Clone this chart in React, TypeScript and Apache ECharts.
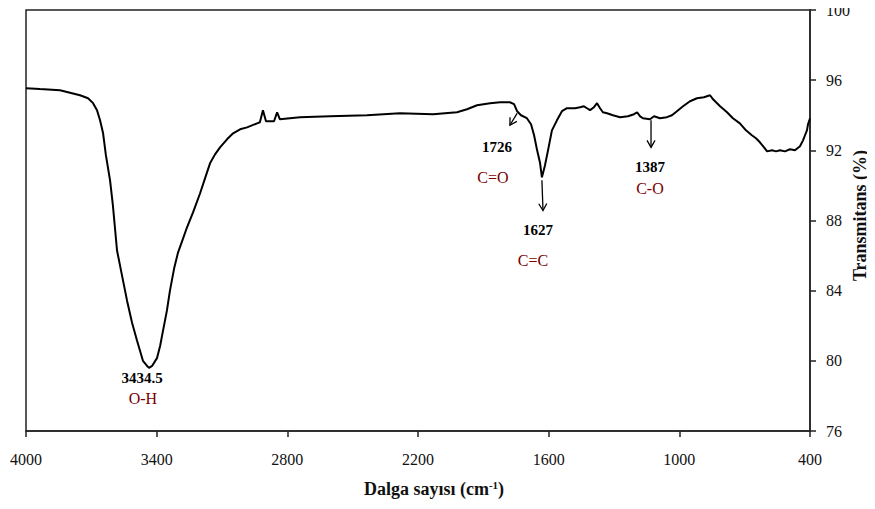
import React, { useEffect, useRef } from "react";
import * as echarts from "echarts";

// Wavenumber (cm-1) and transmittance (%)
const wavenumbers = [
  4000, 3936, 3844, 3752, 3715, 3692, 3674, 3660, 3646, 3633, 3614, 3601, 3582, 3559, 3536, 3513,
  3490, 3463, 3444, 3435, 3421, 3398, 3384, 3371, 3353, 3339, 3320, 3302, 3279, 3261, 3233, 3201,
  3178, 3155, 3132, 3109, 3077, 3049, 3017, 2985, 2939, 2926, 2912, 2898, 2880, 2861, 2847, 2834,
  2788, 2742, 2604, 2434, 2283, 2131, 2021, 1975, 1929, 1869, 1823, 1778, 1759, 1745, 1727, 1700,
  1681, 1667, 1653, 1640, 1631, 1617, 1603, 1585, 1562, 1539, 1516, 1479, 1456, 1438, 1424, 1410,
  1392, 1378, 1364, 1351, 1332, 1305, 1272, 1236, 1208, 1194, 1180, 1167, 1135, 1116, 1089, 1057,
  1034, 1011, 983, 951, 919, 887, 859, 845, 813, 781, 754, 722, 694, 667, 648, 630, 611, 597, 574,
  556, 538, 515, 492, 469, 446, 432, 423, 414, 409, 400,
];
const transmittance = [
  95.54, 95.49, 95.43, 95.14, 94.97, 94.69, 94.29, 93.71, 92.97, 91.71, 90.29, 88.86, 86.29, 84.86,
  83.43, 82.17, 81.14, 80.0, 79.71, 79.6, 79.71, 80.17, 80.86, 81.71, 82.86, 84.0, 85.26, 86.17,
  86.97, 87.6, 88.46, 89.54, 90.4, 91.26, 91.77, 92.17, 92.63, 92.97, 93.2, 93.31, 93.54, 93.6,
  94.29, 93.66, 93.66, 93.66, 94.17, 93.77, 93.83, 93.89, 93.94, 94.0, 94.11, 94.06, 94.17, 94.34,
  94.57, 94.69, 94.74, 94.74, 94.63, 94.23, 94.0, 93.83, 93.49, 92.86, 92.0, 91.31, 90.46, 91.14,
  92.0, 93.14, 93.71, 94.23, 94.4, 94.4, 94.46, 94.51, 94.4, 94.29, 94.46, 94.69, 94.4, 94.17,
  94.11, 94.0, 93.89, 93.94, 94.06, 94.17, 93.94, 93.83, 93.77, 93.94, 93.83, 93.89, 94.0, 94.23,
  94.51, 94.8, 94.97, 95.03, 95.14, 94.91, 94.51, 94.17, 93.83, 93.54, 93.14, 92.86, 92.69, 92.46,
  92.17, 91.94, 92.0, 91.94, 92.0, 91.94, 92.06, 92.0, 92.23, 92.57, 92.86, 93.14, 93.49, 93.83,
];

const xTickMin = 400;
const xTickMax = 4000;
const xTickStep = 600;
const yTickMin = 76;
const yTickMax = 100;
const yTickStep = 4;

// Annotations: peak value label, group label, arrow from / to (data coordinates)
const peakLabels = ["1726", "1627", "1387", "3434.5"];
const groupLabels = ["C=O", "C=C", "C-O", "O-H"];
const peakLabelPos = [
  [1837, 92.17],
  [1649, 87.43],
  [1135, 91.03],
  [3467, 79.03],
];
const groupLabelPos = [
  [1856, 90.46],
  [1672, 85.71],
  [1135, 89.83],
  [3463, 77.83],
];
const arrowFrom: (number[] | null)[] = [[1745, 94.11], [1631, 90.29], [1130, 93.71], null];
const arrowTo: (number[] | null)[] = [[1778, 93.43], [1626, 88.57], [1130, 92.17], null];

const FONT = '"Liberation Serif", "Times New Roman", serif';

export default function App() {
  const ref = useRef<HTMLDivElement>(null);
  useEffect(() => {
    if (!ref.current) return;
    const chart = echarts.init(ref.current, null, { renderer: "svg" });
    const data = wavenumbers.map((w, i) => [w, transmittance[i]]);
    chart.setOption({
      animation: false,
      backgroundColor: "#fff",
      grid: {
        left: 26,
        right: 65,
        top: 10,
        bottom: 78,
        containLabel: false,
        outerBoundsMode: "none",
        show: true,
        borderColor: "#222",
        borderWidth: 1.5,
        backgroundColor: "transparent",
      },
      xAxis: {
        type: "value",
        inverse: true,
        min: xTickMin,
        max: xTickMax,
        interval: xTickStep,
        name: "Dalga sayısı (cm{sup|-1})",
        nameLocation: "middle",
        nameGap: 48,
        nameMoveOverlap: false,
        nameTextStyle: {
          fontFamily: FONT,
          fontSize: 18,
          fontWeight: "bold",
          color: "#111",
          padding: [0, 0, 0, 32],
          rich: {
            sup: { fontFamily: FONT, fontSize: 11, fontWeight: "bold", verticalAlign: "top", lineHeight: 20 },
          },
        },
        axisLine: { show: true, lineStyle: { color: "#222", width: 1.5 } },
        axisTick: { show: true, inside: false, length: 6, lineStyle: { color: "#222", width: 1.5 } },
        axisLabel: {
          fontFamily: FONT,
          fontSize: 16,
          color: "#111",
          margin: 20,
          showMinLabel: true,
          showMaxLabel: true,
          formatter: (v: number) => String(v),
        },
        splitLine: { show: false },
      },
      yAxis: {
        type: "value",
        position: "right",
        min: yTickMin,
        max: yTickMax,
        interval: yTickStep,
        name: "Transmitans (%)",
        nameLocation: "middle",
        nameRotate: 90,
        nameGap: 41,
        nameMoveOverlap: false,
        nameTextStyle: {
          fontFamily: FONT,
          fontSize: 18,
          fontWeight: "bold",
          color: "#111",
          padding: [0, 0, 0, 10],
        },
        axisLine: { show: true, lineStyle: { color: "#222", width: 1.5 } },
        axisTick: { show: true, inside: false, length: 6, lineStyle: { color: "#222", width: 1.5 } },
        axisLabel: { fontFamily: FONT, fontSize: 16, color: "#111", margin: 16, formatter: (v: number) => String(v) },
        splitLine: { show: false },
      },
      series: [
        {
          type: "line",
          data,
          showSymbol: false,
          symbol: "none",
          smooth: false,
          lineStyle: { color: "#000", width: 2 },
        },
      ],
    });

    const px = (p: number[]) => chart.convertToPixel({ gridIndex: 0 }, p) as number[];
    const graphics: any[] = [];
    peakLabels.forEach((t, i) => {
      const a = px(peakLabelPos[i]);
      graphics.push({
        type: "text",
        x: a[0],
        y: a[1],
        style: { text: t, fill: "#000", font: `bold 15px ${FONT}`, align: "center", verticalAlign: "middle" },
      });
      const b = px(groupLabelPos[i]);
      graphics.push({
        type: "text",
        x: b[0],
        y: b[1],
        style: { text: groupLabels[i], fill: "#7a0000", font: `16px ${FONT}`, align: "center", verticalAlign: "middle" },
      });
      const f = arrowFrom[i];
      const to = arrowTo[i];
      if (f && to) {
        const p0 = px(f);
        const p1 = px(to);
        const dx = p1[0] - p0[0];
        const dy = p1[1] - p0[1];
        const len = Math.hypot(dx, dy) || 1;
        const ux = dx / len;
        const uy = dy / len;
        const armLen = 8;
        const ang = Math.PI / 6;
        const rot = (x: number, y: number, a: number) => [x * Math.cos(a) - y * Math.sin(a), x * Math.sin(a) + y * Math.cos(a)];
        const r1 = rot(-ux, -uy, ang);
        const r2 = rot(-ux, -uy, -ang);
        graphics.push({
          type: "line",
          shape: { x1: p0[0], y1: p0[1], x2: p1[0], y2: p1[1] },
          style: { stroke: "#000", lineWidth: 1.3 },
        });
        graphics.push({
          type: "polyline",
          shape: {
            points: [
              [p1[0] + r1[0] * armLen, p1[1] + r1[1] * armLen],
              [p1[0], p1[1]],
              [p1[0] + r2[0] * armLen, p1[1] + r2[1] * armLen],
            ],
          },
          style: { stroke: "#000", lineWidth: 1.3, fill: "none" },
        });
      }
    });
    chart.setOption({ graphic: graphics });

    return () => chart.dispose();
  }, []);
  return <div ref={ref} style={{ width: 875, height: 509, margin: -8 }} />;
}
